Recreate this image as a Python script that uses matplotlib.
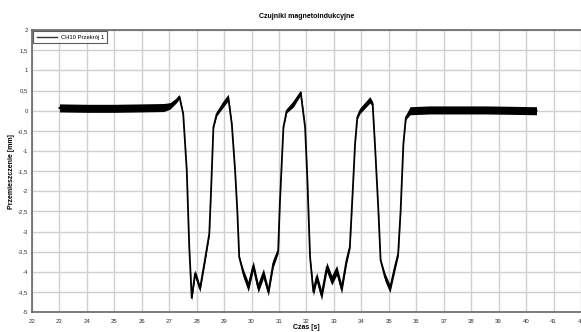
import matplotlib
matplotlib.use('Agg')
import matplotlib.pyplot as plt
from matplotlib.ticker import FuncFormatter

plt.rcParams['font.family'] = ['Liberation Sans', 'DejaVu Sans']

# key points of the CH10 trace (time [s], displacement [mm])
czas = [23.0, 24.0, 25.0, 26.0, 26.8, 27.03, 27.25, 27.37, 27.51, 27.64, 27.73, 27.82,
        27.94, 28.02, 28.12, 28.30, 28.46, 28.52, 28.61, 28.73, 28.97, 29.15,
        29.28, 29.40, 29.48, 29.55, 29.70, 29.88, 30.06, 30.24, 30.43, 30.61,
        30.79, 30.97, 31.03, 31.16, 31.28, 31.52, 31.79, 31.95, 32.03, 32.13,
        32.25, 32.37, 32.55, 32.74, 32.92, 33.10, 33.28, 33.46, 33.58, 33.68,
        33.77, 33.85, 33.95, 34.31, 34.41, 34.50, 34.62, 34.70, 34.86, 35.04,
        35.22, 35.34, 35.43, 35.53, 35.62, 35.77, 36.5, 37.5, 38.5, 39.5, 40.38]
przemieszczenie = [0.07, 0.06, 0.06, 0.07, 0.08, 0.12, 0.25, 0.35, -0.08, -1.49, -3.38, -4.65,
                   -4.04, -4.20, -4.42, -3.71, -3.05, -2.06, -0.41, -0.08, 0.17, 0.33,
                   -0.33, -1.49, -2.48, -3.63, -4.04, -4.37, -3.85, -4.40, -4.04, -4.50,
                   -3.79, -3.47, -2.31, -0.41, 0.0, 0.17, 0.45, -0.41, -1.65, -3.63,
                   -4.50, -4.13, -4.58, -3.88, -4.21, -3.96, -4.42, -3.71, -3.38, -2.06,
                   -0.82, -0.17, 0.0, 0.27, 0.17, -0.91, -2.48, -3.71, -4.13, -4.42,
                   -3.88, -3.55, -2.48, -0.82, -0.17, 0.0, 0.02, 0.02, 0.02, 0.01, 0.0]
# half width of the noise band around the trace
szum = [0.10, 0.10, 0.10, 0.10, 0.10, 0.08, 0.06, 0.05, 0.02, 0.01, 0.01, 0.06,
        0.09, 0.09, 0.08, 0.07, 0.05, 0.02, 0.02, 0.05, 0.08, 0.08,
        0.03, 0.02, 0.02, 0.03, 0.10, 0.12, 0.12, 0.12, 0.12, 0.10,
        0.10, 0.07, 0.02, 0.02, 0.05, 0.08, 0.06, 0.02, 0.02, 0.03,
        0.10, 0.12, 0.12, 0.12, 0.12, 0.12, 0.12, 0.10, 0.06, 0.02,
        0.02, 0.04, 0.07, 0.08, 0.06, 0.02, 0.02, 0.03, 0.10, 0.10,
        0.10, 0.07, 0.02, 0.02, 0.05, 0.10, 0.10, 0.10, 0.10, 0.10, 0.10]

x_ticks = list(range(22, 43))
y_ticks = [2 - 0.5 * i for i in range(15)]

fig = plt.figure(figsize=(5.81, 3.32), dpi=100)
ax = fig.add_axes([0.055, 0.06, 0.945, 0.849])

gora = [v + s for v, s in zip(przemieszczenie, szum)]
dol = [v - s for v, s in zip(przemieszczenie, szum)]
ax.fill_between(czas, dol, gora, color='black', linewidth=0, zorder=3)
ax.plot(czas, przemieszczenie, color='black', linewidth=1.3, zorder=3,
        label='CH10 Przekrój 1')

ax.set_xlim(22, 42)
ax.set_ylim(-5, 2)
ax.set_xticks(x_ticks)
ax.set_yticks(y_ticks)
fmt = FuncFormatter(lambda v, p: ('%g' % v).replace('.', ','))
ax.xaxis.set_major_formatter(fmt)
ax.yaxis.set_major_formatter(fmt)
ax.tick_params(labelsize=4.3, length=0, colors='#333333')
ax.tick_params(axis='x', pad=5)
ax.tick_params(axis='y', pad=3)
ax.grid(True, color='#d0d0d0', linewidth=1.0, zorder=0)
ax.set_axisbelow(True)
for s in ['left', 'bottom', 'top']:
    ax.spines[s].set_color('#666666')
    ax.spines[s].set_linewidth(1.2)
ax.spines['right'].set_visible(False)

ax.set_title('Czujniki magnetoindukcyjne', fontsize=5, fontweight='bold', pad=9)
ax.set_xlabel('Czas [s]', fontsize=5, fontweight='bold', labelpad=0)
ax.set_ylabel('Przemieszczenie [mm]', fontsize=5, fontweight='bold', labelpad=2)

leg = ax.legend(loc='upper left', fontsize=4.2, frameon=True, fancybox=False,
                borderaxespad=0.2, handlelength=3.5, handletextpad=0.6,
                borderpad=0.6)
leg.get_frame().set_edgecolor('#333333')
leg.get_frame().set_linewidth(0.8)
for h in leg.get_lines():
    h.set_linewidth(1.0)
    h.set_color('#333333')

fig.savefig('out.png', dpi=100)
